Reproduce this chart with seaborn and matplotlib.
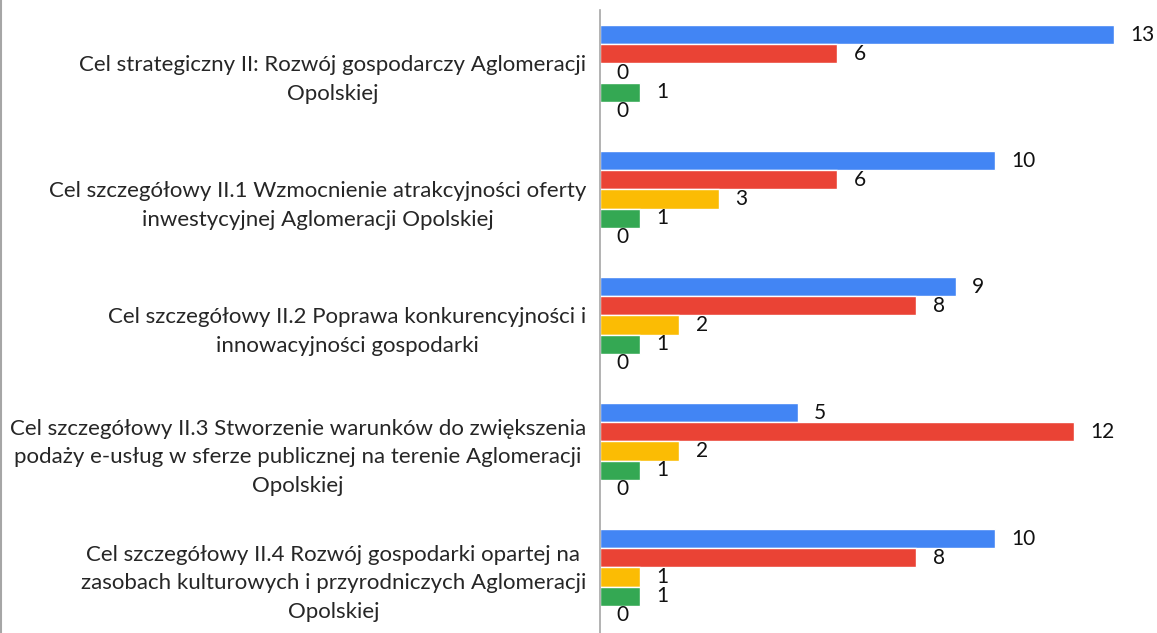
import pandas as pd
import matplotlib.pyplot as plt
import seaborn as sns
from matplotlib.lines import Line2D

categories = [
    "Cel strategiczny II: Rozwój gospodarczy Aglomeracji\nOpolskiej",
    "Cel szczegółowy II.1 Wzmocnienie atrakcyjności oferty\ninwestycyjnej Aglomeracji Opolskiej",
    "Cel szczegółowy II.2 Poprawa konkurencyjności i\ninnowacyjności gospodarki",
    "Cel szczegółowy II.3 Stworzenie warunków do zwiększenia\npodaży e-usług w sferze publicznej na terenie Aglomeracji\nOpolskiej",
    "Cel szczegółowy II.4 Rozwój gospodarki opartej na\nzasobach kulturowych i przyrodniczych Aglomeracji\nOpolskiej",
]
series = ["Seria 1", "Seria 2", "Seria 3", "Seria 4", "Seria 5"]
values_s1 = [13, 10, 9, 5, 10]
values_s2 = [6, 6, 8, 12, 8]
values_s3 = [0, 3, 2, 2, 1]
values_s4 = [1, 1, 1, 1, 1]
values_s5 = [0, 0, 0, 0, 0]
colors = ["#4285F4", "#EA4335", "#FBBC04", "#34A853", "#FF6D01"]

rows = []
for s, vals in zip(series, [values_s1, values_s2, values_s3, values_s4, values_s5]):
    for c, v in zip(categories, vals):
        rows.append({"cel": c, "seria": s, "liczba": v})
df = pd.DataFrame(rows)

sns.set_style("white")
plt.rcParams["font.family"] = ["Lato", "DejaVu Sans"]

fig = plt.figure(figsize=(11.57, 6.33), dpi=100)
ax = fig.add_axes([600 / 1157, -7 / 633, 553 / 1157, 630 / 633])

sns.barplot(data=df, y="cel", x="liczba", hue="seria", palette=colors,
            orient="h", width=0.76, saturation=1, legend=False, ax=ax)

for cont in ax.containers:
    ax.bar_label(cont, padding=12, fontsize=15, color="#111111")

ax.set_xlim(0, 14)
ax.set_xlabel("")
ax.set_ylabel("")
ax.set_xticks([])
ax.tick_params(axis="y", length=0, pad=10)
for lab in ax.get_yticklabels():
    lab.set_fontsize(16)
    lab.set_multialignment("center")
    lab.set_linespacing(1.55)
for side in ["top", "right", "bottom"]:
    ax.spines[side].set_visible(False)
ax.spines["left"].set_color("#a6a6a6")
ax.spines["left"].set_linewidth(1.2)

fig.add_artist(Line2D([0.001, 0.001], [0, 1], color="#a6a6a6", lw=1.5,
                      transform=fig.transFigure))

fig.savefig("out.png", dpi=100)
